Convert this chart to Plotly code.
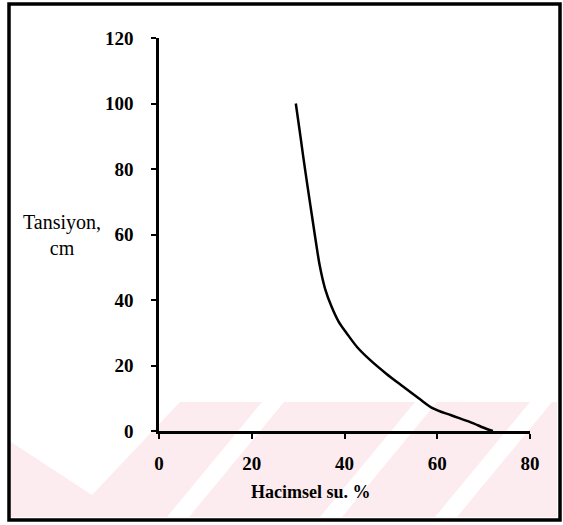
import plotly.graph_objects as go

# Data
water_pct = [29.5, 30.3, 31.1, 32.0, 32.9, 33.8, 34.7, 35.8, 37.2, 38.7, 40.5, 42.8, 45.5, 49.0, 52.7, 56.0, 59.1, 63.0, 67.0, 70.7, 72.0]
tension_cm = [100, 92.0, 83.8, 75.0, 66.5, 58.0, 50.2, 43.5, 38.0, 33.5, 29.8, 25.5, 21.7, 17.5, 13.5, 10.0, 6.9, 4.8, 2.8, 0.6, 0.0]
x_ticks = [0, 20, 40, 60, 80]
y_ticks = [0, 20, 40, 60, 80, 100, 120]
x_title = "Hacimsel su. %"
y_title = "Tansiyon,<br>cm"

W, H = 563, 525
L, R, T, B = 159, 530, 38, 431  # plot area in pixels


def px(xp):
    return (xp - L) / (R - L)


def py(yp):
    return (B - yp) / (B - T)


fig = go.Figure()
fig.add_trace(go.Scatter(
    x=water_pct, y=tension_cm, mode="lines",
    line=dict(color="black", width=2.5, shape="spline", smoothing=1.0),
    showlegend=False, hoverinfo="skip"))

shapes = []
pink = "#fdecef"
# faint watermark band
shapes.append(dict(type="rect", xref="paper", yref="paper", layer="below",
                   x0=px(10), x1=px(557), y0=py(517), y1=py(402),
                   fillcolor=pink, line=dict(width=0)))
# white V region
shapes.append(dict(type="path", xref="paper", yref="paper", layer="below",
                   path=f"M {px(8)} {py(402)} L {px(8)} {py(440)} L {px(92)} {py(495)} L {px(180)} {py(402)} Z",
                   fillcolor="white", line=dict(width=0)))
# white diagonal stripes
for top_x in [262, 415, 530]:
    w = 22
    shapes.append(dict(type="path", xref="paper", yref="paper", layer="below",
                       path=(f"M {px(top_x)} {py(402)} L {px(top_x + w)} {py(402)} "
                             f"L {px(top_x + w - 95)} {py(517)} L {px(top_x - 95)} {py(517)} Z"),
                       fillcolor="white", line=dict(width=0)))
# outer frame
shapes.append(dict(type="rect", xref="paper", yref="paper", layer="above",
                   x0=px(9), x1=px(560), y0=py(520), y1=py(4),
                   line=dict(color="black", width=3.5)))

font_ticks = dict(family="Liberation Serif", size=19, color="black", weight="bold")

fig.update_layout(
    width=W, height=H,
    margin=dict(l=L, r=W - R, t=T, b=H - B, pad=0),
    paper_bgcolor="white", plot_bgcolor="rgba(0,0,0,0)",
    shapes=shapes,
    xaxis=dict(range=[0, 80], tickvals=x_ticks, showgrid=False, zeroline=False,
               showline=True, linecolor="black", linewidth=2.5,
               ticks="outside", ticklen=5, tickwidth=2, tickcolor="black",
               tickfont=font_ticks, ticklabelstandoff=8),
    yaxis=dict(range=[0, 120], tickvals=y_ticks, showgrid=False, zeroline=False,
               showline=True, linecolor="black", linewidth=2.5,
               ticks="outside", ticklen=5, tickwidth=2, tickcolor="black",
               tickfont=font_ticks, ticklabelstandoff=14),
    annotations=[
        dict(text=x_title, xref="paper", yref="paper", x=px(311), y=py(492),
             xanchor="center", yanchor="middle", showarrow=False,
             font=dict(family="Liberation Serif", size=18, color="black", weight="bold")),
        dict(text=y_title, xref="paper", yref="paper", x=px(62), y=py(235),
             xanchor="center", yanchor="middle", showarrow=False, align="center",
             font=dict(family="Liberation Serif", size=20, color="black")),
    ],
)

fig.write_html("out.html")
